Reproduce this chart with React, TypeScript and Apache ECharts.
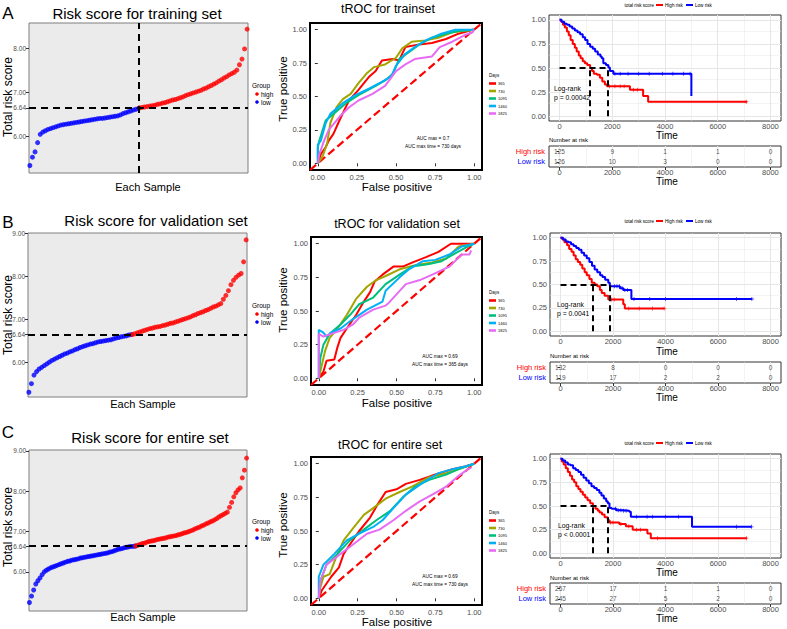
import React, { useEffect, useRef } from "react";
import * as echarts from "echarts";

const FONT = "'Liberation Sans', Arial, Helvetica, sans-serif";
const RED = "#FF0000";
const BLUE = "#0000FF";
const GREY = "#4D4D4D";

// ---------------- Risk score (sorted) ----------------
const cutoff = 6.64;
const nLowA = 126;
const nHighA = 125;
const riskLowA = [5.33, 5.52, 5.64, 5.85, 6.04, 6.09, 6.12, 6.15, 6.17, 6.19, 6.21, 6.23, 6.25, 6.26, 6.27, 6.28, 6.29, 6.3, 6.31, 6.32, 6.33, 6.34, 6.35, 6.36, 6.37, 6.38, 6.39, 6.4, 6.4, 6.41, 6.42, 6.43, 6.44, 6.45, 6.46, 6.48, 6.51, 6.53, 6.55, 6.57, 6.59, 6.61, 6.63];
const riskHighA = [6.64, 6.65, 6.66, 6.67, 6.68, 6.69, 6.7, 6.72, 6.73, 6.75, 6.76, 6.78, 6.8, 6.82, 6.83, 6.85, 6.87, 6.89, 6.92, 6.94, 6.96, 6.98, 7.0, 7.02, 7.04, 7.07, 7.09, 7.12, 7.15, 7.18, 7.21, 7.25, 7.28, 7.32, 7.35, 7.39, 7.42, 7.45, 7.5, 7.62, 7.75, 7.98, 8.43];
const nLowB = 119;
const nHighB = 132;
const riskLowB = [5.3, 5.5, 5.7, 5.78, 5.84, 5.88, 5.92, 5.96, 6.0, 6.04, 6.07, 6.1, 6.13, 6.16, 6.19, 6.21, 6.24, 6.26, 6.29, 6.31, 6.34, 6.36, 6.38, 6.4, 6.42, 6.43, 6.45, 6.47, 6.48, 6.49, 6.5, 6.51, 6.52, 6.54, 6.56, 6.57, 6.59, 6.6, 6.61, 6.63, 6.64];
const riskHighB = [6.64, 6.66, 6.68, 6.7, 6.72, 6.74, 6.76, 6.78, 6.79, 6.81, 6.82, 6.83, 6.85, 6.86, 6.88, 6.9, 6.91, 6.93, 6.95, 6.97, 6.99, 7.01, 7.03, 7.05, 7.08, 7.1, 7.13, 7.15, 7.17, 7.2, 7.22, 7.25, 7.28, 7.3, 7.33, 7.36, 7.46, 7.55, 7.66, 7.8, 7.9, 7.97, 8.02, 8.06, 8.33, 8.84];
const nLowC = 245;
const nHighC = 257;
const riskLowC = [5.24, 5.4, 5.55, 5.7, 5.78, 5.85, 5.93, 6.0, 6.04, 6.07, 6.1, 6.12, 6.14, 6.16, 6.18, 6.2, 6.22, 6.24, 6.26, 6.27, 6.29, 6.3, 6.31, 6.32, 6.34, 6.35, 6.36, 6.37, 6.38, 6.39, 6.4, 6.41, 6.42, 6.43, 6.44, 6.45, 6.46, 6.47, 6.49, 6.5, 6.52, 6.54, 6.56, 6.57, 6.58, 6.6, 6.61, 6.62, 6.63, 6.63, 6.64];
const riskHighC = [6.64, 6.66, 6.68, 6.7, 6.71, 6.73, 6.75, 6.76, 6.77, 6.78, 6.8, 6.81, 6.82, 6.83, 6.84, 6.86, 6.87, 6.88, 6.89, 6.9, 6.92, 6.93, 6.95, 6.97, 6.98, 7.0, 7.02, 7.04, 7.07, 7.09, 7.11, 7.14, 7.16, 7.19, 7.21, 7.24, 7.26, 7.29, 7.32, 7.36, 7.39, 7.42, 7.45, 7.48, 7.6, 7.72, 7.86, 7.96, 8.03, 8.08, 8.33, 8.52, 8.82];
const riskTicksA = [6, 6.64, 7, 8];
const riskTicksBC = [6, 6.64, 7, 8, 9];

// ---------------- time-dependent ROC ----------------
const rocDays = ["365", "730", "1095", "1460", "1825"];
const rocColors = [RED, "#A3A500", "#00BF7D", "#00B0F6", "#E76BF3"];
const rocTicks = [0, 0.25, 0.5, 0.75, 1];

const roc365A = [[0, 0], [0.02, 0.07], [0.05, 0.12], [0.07, 0.17], [0.1, 0.22], [0.13, 0.3], [0.17, 0.4], [0.2, 0.47], [0.26, 0.55], [0.33, 0.65], [0.37, 0.69], [0.41, 0.77], [0.48, 0.78], [0.52, 0.77], [0.56, 0.87], [0.65, 0.89], [0.73, 0.9], [0.82, 0.93], [0.9, 0.97], [0.99, 1], [1, 1]];
const roc730A = [[0, 0], [0.03, 0.05], [0.06, 0.15], [0.08, 0.3], [0.12, 0.42], [0.16, 0.48], [0.21, 0.52], [0.26, 0.6], [0.31, 0.67], [0.36, 0.72], [0.43, 0.74], [0.5, 0.79], [0.54, 0.86], [0.6, 0.91], [0.69, 0.92], [0.77, 0.94], [0.86, 0.98], [1, 1]];
const roc1095A = [[0, 0], [0, 0.12], [0.01, 0.17], [0.05, 0.32], [0.1, 0.37], [0.18, 0.45], [0.26, 0.51], [0.37, 0.58], [0.43, 0.62], [0.48, 0.67], [0.52, 0.78], [0.58, 0.83], [0.65, 0.89], [0.73, 0.94], [0.82, 0.97], [0.9, 0.99], [1, 1]];
const roc1460A = [[0, 0], [0, 0.14], [0.02, 0.17], [0.05, 0.3], [0.08, 0.37], [0.16, 0.45], [0.24, 0.51], [0.33, 0.56], [0.41, 0.61], [0.47, 0.65], [0.5, 0.73], [0.56, 0.82], [0.62, 0.87], [0.69, 0.92], [0.79, 0.97], [0.88, 1], [1, 1]];
const roc1825A = [[0, 0], [0.01, 0.07], [0.04, 0.17], [0.07, 0.25], [0.14, 0.35], [0.2, 0.42], [0.26, 0.47], [0.35, 0.52], [0.43, 0.58], [0.5, 0.69], [0.56, 0.74], [0.62, 0.78], [0.73, 0.8], [0.78, 0.87], [0.86, 0.91], [0.94, 0.96], [0.99, 0.98], [1, 1]];

const roc365B = [[0, 0], [0.03, 0.05], [0.05, 0.13], [0.1, 0.14], [0.12, 0.23], [0.14, 0.3], [0.18, 0.37], [0.24, 0.47], [0.29, 0.57], [0.33, 0.64], [0.36, 0.72], [0.41, 0.77], [0.48, 0.83], [0.54, 0.83], [0.6, 0.86], [0.69, 0.9], [0.77, 0.94], [0.85, 1], [1, 1]];
const roc730B = [[0, 0], [0.02, 0.1], [0.04, 0.2], [0.07, 0.3], [0.12, 0.37], [0.18, 0.47], [0.24, 0.59], [0.31, 0.68], [0.37, 0.73], [0.43, 0.76], [0.52, 0.81], [0.62, 0.84], [0.73, 0.86], [0.82, 0.89], [0.9, 0.98], [1, 1]];
const roc1095B = [[0, 0], [0.01, 0.15], [0.03, 0.25], [0.07, 0.33], [0.14, 0.4], [0.2, 0.47], [0.26, 0.55], [0.35, 0.6], [0.43, 0.7], [0.52, 0.77], [0.6, 0.83], [0.71, 0.85], [0.79, 0.87], [0.88, 0.93], [0.96, 0.98], [1, 1]];
const roc1460B = [[0, 0], [0, 0.36], [0.03, 0.34], [0.05, 0.31], [0.08, 0.34], [0.14, 0.37], [0.22, 0.44], [0.31, 0.51], [0.41, 0.57], [0.43, 0.65], [0.52, 0.75], [0.58, 0.81], [0.67, 0.87], [0.75, 0.88], [0.84, 0.92], [0.92, 0.98], [1, 1]];
const roc1825B = [[0, 0], [0, 0.33], [0.03, 0.31], [0.08, 0.33], [0.16, 0.36], [0.22, 0.4], [0.26, 0.45], [0.35, 0.51], [0.43, 0.54], [0.45, 0.56], [0.56, 0.7], [0.65, 0.73], [0.73, 0.77], [0.84, 0.83], [0.92, 0.92], [0.97, 0.92], [0.98, 0.95]];

const roc365C = [[0, 0], [0.02, 0.06], [0.05, 0.11], [0.08, 0.16], [0.13, 0.23], [0.16, 0.33], [0.2, 0.4], [0.26, 0.5], [0.33, 0.6], [0.38, 0.7], [0.43, 0.79], [0.5, 0.81], [0.56, 0.85], [0.65, 0.88], [0.75, 0.92], [0.86, 0.96], [0.94, 0.98], [1, 1]];
const roc730C = [[0, 0], [0.01, 0.08], [0.03, 0.16], [0.07, 0.18], [0.11, 0.3], [0.16, 0.43], [0.22, 0.52], [0.29, 0.62], [0.35, 0.67], [0.43, 0.74], [0.52, 0.79], [0.6, 0.83], [0.71, 0.9], [0.82, 0.93], [0.9, 0.96], [1, 1]];
const roc1095C = [[0, 0], [0.01, 0.13], [0.05, 0.25], [0.12, 0.33], [0.2, 0.43], [0.29, 0.51], [0.37, 0.58], [0.46, 0.65], [0.54, 0.75], [0.62, 0.83], [0.71, 0.88], [0.82, 0.92], [0.9, 0.96], [1, 1]];
const roc1460C = [[0, 0], [0, 0.16], [0.03, 0.25], [0.1, 0.33], [0.18, 0.43], [0.26, 0.48], [0.35, 0.53], [0.41, 0.58], [0.48, 0.67], [0.56, 0.77], [0.67, 0.86], [0.77, 0.93], [0.86, 0.96], [0.94, 0.98], [1, 1]];
const roc1825C = [[0, 0], [0.01, 0.13], [0.05, 0.25], [0.14, 0.33], [0.22, 0.4], [0.31, 0.48], [0.39, 0.51], [0.48, 0.58], [0.56, 0.65], [0.65, 0.72], [0.73, 0.77], [0.82, 0.83], [0.9, 0.91], [0.96, 0.96], [0.98, 0.97]];

// ---------------- Kaplan-Meier ----------------
const kmTicksX = [0, 2000, 4000, 6000, 8000];
const kmMinorX = [1000, 3000, 5000, 7000];
const kmTicksY = [0, 0.25, 0.5, 0.75, 1];
const kmMinorY = [0.125, 0.375, 0.625, 0.875];

const kmHighA = [[0, 1], [60, 0.98], [130, 0.95], [200, 0.92], [280, 0.88], [350, 0.84], [420, 0.79], [500, 0.75], [580, 0.71], [650, 0.67], [730, 0.63], [800, 0.6], [880, 0.57], [960, 0.55], [1050, 0.53], [1160, 0.5], [1230, 0.47], [1300, 0.44], [1420, 0.43], [1530, 0.4], [1620, 0.36], [1720, 0.33], [1800, 0.31], [2670, 0.275], [3170, 0.21], [3360, 0.15], [7100, 0.15]];
const kmLowA = [[0, 1], [80, 0.98], [180, 0.96], [280, 0.95], [380, 0.93], [480, 0.91], [580, 0.89], [680, 0.87], [780, 0.85], [880, 0.82], [970, 0.79], [1060, 0.75], [1160, 0.72], [1260, 0.7], [1350, 0.67], [1450, 0.64], [1550, 0.62], [1600, 0.6], [1660, 0.55], [1760, 0.53], [1850, 0.505], [1910, 0.47], [2040, 0.44], [5000, 0.21]];
const censorHighA = [1900, 2100, 2300, 2450, 2800, 2950, 7080];
const censorLowA = [2100, 2300, 2600, 3000, 3400, 3900, 4300, 4700, 4950];
const medianA = [1160, 1810];

const kmHighB = [[0, 1], [70, 0.98], [150, 0.95], [250, 0.92], [330, 0.88], [420, 0.85], [500, 0.81], [580, 0.77], [660, 0.74], [750, 0.71], [830, 0.67], [920, 0.63], [1000, 0.6], [1100, 0.56], [1190, 0.52], [1300, 0.5], [1400, 0.48], [1500, 0.44], [1570, 0.41], [1680, 0.38], [1820, 0.34], [2390, 0.29], [2450, 0.245], [3960, 0.245]];
const kmLowB = [[0, 1], [100, 0.98], [200, 0.96], [300, 0.95], [400, 0.93], [500, 0.91], [600, 0.89], [700, 0.87], [800, 0.84], [900, 0.81], [1000, 0.78], [1100, 0.74], [1200, 0.7], [1300, 0.66], [1400, 0.63], [1510, 0.6], [1600, 0.58], [1700, 0.55], [1820, 0.52], [1880, 0.48], [2260, 0.46], [2390, 0.44], [2700, 0.345], [7290, 0.345]];
const censorHighB = [1950, 2050, 2600, 3000, 3500, 3950];
const censorLowB = [2050, 2150, 2250, 2350, 2450, 2550, 2800, 3400, 4000, 6700, 7290];
const medianB = [1230, 1860];

const kmHighC = [[0, 1], [50, 0.97], [120, 0.94], [200, 0.9], [280, 0.86], [360, 0.82], [440, 0.78], [520, 0.75], [600, 0.71], [680, 0.68], [760, 0.65], [850, 0.62], [940, 0.59], [1030, 0.56], [1130, 0.53], [1235, 0.5], [1330, 0.47], [1420, 0.45], [1490, 0.43], [1580, 0.41], [1680, 0.38], [1800, 0.35], [1865, 0.325], [2240, 0.31], [2490, 0.285], [2750, 0.25], [3310, 0.21], [3440, 0.16], [7090, 0.16]];
const kmLowC = [[0, 1], [80, 0.98], [180, 0.96], [280, 0.94], [380, 0.93], [480, 0.9], [580, 0.88], [680, 0.86], [780, 0.83], [880, 0.8], [980, 0.77], [1080, 0.74], [1180, 0.71], [1280, 0.69], [1380, 0.67], [1480, 0.64], [1560, 0.61], [1650, 0.58], [1740, 0.55], [1800, 0.53], [1865, 0.48], [1950, 0.47], [2120, 0.455], [2400, 0.45], [2620, 0.44], [2680, 0.385], [5010, 0.28], [7280, 0.28]];
const censorHighC = [1900, 2000, 2300, 2600, 2900, 3050, 3700, 7080];
const censorLowC = [2100, 2200, 2300, 2400, 2500, 2900, 3300, 3500, 4000, 4500, 6700, 7280];
const medianC = [1210, 1815];

// Number at risk
const atRiskTimes = [0, 2000, 4000, 6000, 8000];
const atRiskHighA = [125, 9, 1, 1, 0];
const atRiskLowA = [126, 10, 3, 0, 0];
const atRiskHighB = [132, 8, 0, 0, 0];
const atRiskLowB = [119, 17, 2, 2, 0];
const atRiskHighC = [257, 17, 1, 1, 0];
const atRiskLowC = [245, 27, 5, 2, 0];

// ---------------- helpers ----------------
function spread(vals: number[], start: number, count: number) {
  const m = vals.length;
  return vals.map((v, k) => [start + (k * (count - 1)) / (m - 1), v]);
}
function survAt(curve: number[][], t: number) {
  let s = 1;
  for (const p of curve) {
    if (p[0] <= t) s = p[1];
    else break;
  }
  return s;
}
function txt(text: string, x: number, y: number, size: number, o: any = {}) {
  return {
    type: "text",
    x,
    y,
    rotation: o.rot || 0,
    silent: true,
    z: 100,
    style: {
      text,
      fontSize: size,
      fontFamily: FONT,
      fill: o.color || "#000",
      align: o.align || "center",
      verticalAlign: "middle",
    },
  };
}
const PLUS = "path://M2,0H3V2H5V3H3V5H2V3H0V2H2Z";

const panels = [
  {
    letter: "A", letterY: 13,
    risk: { title: "Risk score for training set", tx: 137, ty: 13, box: { left: 29, top: 23, width: 219, height: 150 }, min: 5.16, max: 8.57, ticks: riskTicksA, low: riskLowA, high: riskHighA, nLow: nLowA, nHigh: nHighA, vline: true, labelY: 97, sx: 148, sy: 187, gy: 85 },
    roc: { title: "tROC for trainset", tx: 388, ty: 9, box: { left: 310, top: 23, width: 172, height: 147 }, curves: [roc365A, roc730A, roc1095A, roc1460A, roc1825A], labelY: 89, fy: 187, dy: 75, auc: ["AUC max = 0.7", "AUC max time = 730 days"], ax: 433, ay: 138 },
    km: { box: { left: 549, top: 15, width: 232, height: 106 }, ly: 5, high: kmHighA, low: kmLowA, ch: censorHighA, cl: censorLowA, med: medianA, timeY: 135, p: "p = 0.00042", lx: 554, lry: 88 },
    tab: { box: { left: 549, top: 146, width: 232, height: 21 }, ty: 140, high: atRiskHighA, low: atRiskLowA, timeY: 181 },
  },
  {
    letter: "B", letterY: 222,
    risk: { title: "Risk score for validation set", tx: 156, ty: 220, box: { left: 28, top: 233, width: 219, height: 164 }, min: 5.19, max: 9.0, ticks: riskTicksBC, low: riskLowB, high: riskHighB, nLow: nLowB, nHigh: nHighB, vline: false, labelY: 315, sx: 143, sy: 404, gy: 305 },
    roc: { title: "tROC for validation set", tx: 397, ty: 224, box: { left: 311, top: 237, width: 171, height: 148 }, curves: [roc365B, roc730B, roc1095B, roc1460B, roc1825B], labelY: 300, fy: 403, dy: 292, auc: ["AUC max = 0.69", "AUC max time = 365 days"], ax: 440, ay: 356 },
    km: { box: { left: 550, top: 233, width: 231, height: 103 }, ly: 221, high: kmHighB, low: kmLowB, ch: censorHighB, cl: censorLowB, med: medianB, timeY: 351, p: "p = 0.0041", lx: 557, lry: 304 },
    tab: { box: { left: 550, top: 362, width: 231, height: 21 }, ty: 356, high: atRiskHighB, low: atRiskLowB, timeY: 397 },
  },
  {
    letter: "C", letterY: 432,
    risk: { title: "Risk score for entire set", tx: 150, ty: 437, box: { left: 29, top: 450, width: 218, height: 161 }, min: 5.03, max: 9.02, ticks: riskTicksBC, low: riskLowC, high: riskHighC, nLow: nLowC, nHigh: nHighC, vline: false, labelY: 527, sx: 143, sy: 617, gy: 521 },
    roc: { title: "tROC for entire set", tx: 390, ty: 445, box: { left: 311, top: 457, width: 171, height: 148 }, curves: [roc365C, roc730C, roc1095C, roc1460C, roc1825C], labelY: 525, fy: 622, dy: 512, auc: ["AUC max = 0.69", "AUC max time = 730 days"], ax: 440, ay: 576 },
    km: { box: { left: 550, top: 454, width: 231, height: 104 }, ly: 443, high: kmHighC, low: kmLowC, ch: censorHighC, cl: censorLowC, med: medianC, timeY: 572, p: "p < 0.0001", lx: 558, lry: 525 },
    tab: { box: { left: 550, top: 583, width: 231, height: 21 }, ty: 578, high: atRiskHighC, low: atRiskLowC, timeY: 618 },
  },
];

function valueAxisLabels(ticks: number[], fmt: (v: number) => string, size: number, margin = 3) {
  return {
    axisLine: { show: false },
    splitLine: { show: false },
    axisTick: { show: true, customValues: ticks, length: 3, lineStyle: { color: "#333", width: 1 } },
    axisLabel: { customValues: ticks, formatter: fmt, fontSize: size, color: GREY, margin, fontFamily: FONT },
  };
}

function gridLineSeries(g: number, vert: number[], vertMinor: number[], hor: number[], horMinor: number[]) {
  const data: any[] = [];
  vert.forEach((v) => data.push({ xAxis: v, lineStyle: { width: 1 } }));
  vertMinor.forEach((v) => data.push({ xAxis: v, lineStyle: { width: 0.5 } }));
  hor.forEach((v) => data.push({ yAxis: v, lineStyle: { width: 1 } }));
  horMinor.forEach((v) => data.push({ yAxis: v, lineStyle: { width: 0.5 } }));
  return {
    type: "line",
    xAxisIndex: g,
    yAxisIndex: g,
    data: [[vert[0], hor.length ? hor[0] : 0]],
    showSymbol: false,
    silent: true,
    lineStyle: { opacity: 0 },
    z: 1,
    markLine: {
      z: 1,
      silent: true,
      symbol: ["none", "none"],
      label: { show: false },
      lineStyle: { color: "#E6E6E6", type: "solid" },
      data,
    },
  };
}

function buildOption() {
  const grid: any[] = [];
  const xAxis: any[] = [];
  const yAxis: any[] = [];
  const series: any[] = [];
  const graphic: any[] = [];
  let gi = 0;

  panels.forEach((p) => {
    graphic.push(txt(p.letter, 8, p.letterY, 17));

    // ---- risk score plot ----
    const r = p.risk;
    let g = gi++;
    grid.push({ ...r.box, show: true, backgroundColor: "#EBEBEB", borderColor: "#7F7F7F", borderWidth: 1 });
    xAxis.push({ gridIndex: g, type: "value", min: 0, max: r.nLow + r.nHigh + 1, show: false, splitLine: { show: false } });
    yAxis.push({ gridIndex: g, type: "value", min: r.min, max: r.max, ...valueAxisLabels(r.ticks, (v: number) => v.toFixed(2), 6.5) });
    const mlData: any[] = [{ yAxis: cutoff }];
    if (r.vline) mlData.push({ xAxis: r.nLow + 0.5 });
    series.push({ type: "scatter", xAxisIndex: g, yAxisIndex: g, data: spread(r.low, 1, r.nLow), symbolSize: 5, itemStyle: { color: BLUE }, silent: true });
    series.push({
      type: "scatter", xAxisIndex: g, yAxisIndex: g, data: spread(r.high, r.nLow + 1, r.nHigh), symbolSize: 5, itemStyle: { color: RED }, silent: true,
      markLine: { silent: true, symbol: ["none", "none"], label: { show: false }, lineStyle: { color: "#000", type: [7, 5], width: 2 }, data: mlData },
    });
    graphic.push(txt(r.title, r.tx, r.ty, 15));
    graphic.push(txt("Total risk score", 8, r.labelY, 12, { rot: Math.PI / 2 }));
    graphic.push(txt("Each Sample", r.sx, r.sy, 11));
    graphic.push(txt("Group", 252, r.gy, 6.5, { align: "left" }));
    graphic.push({ type: "circle", shape: { cx: 257, cy: r.gy + 9, r: 1.8 }, style: { fill: RED }, silent: true });
    graphic.push({ type: "circle", shape: { cx: 257, cy: r.gy + 17, r: 1.8 }, style: { fill: BLUE }, silent: true });
    graphic.push(txt("high", 261, r.gy + 9, 6.5, { align: "left" }));
    graphic.push(txt("low", 261, r.gy + 17, 6.5, { align: "left" }));

    // ---- ROC ----
    const o = p.roc;
    g = gi++;
    grid.push({ ...o.box, show: true, backgroundColor: "#fff", borderColor: "#000", borderWidth: 2 });
    xAxis.push({ gridIndex: g, type: "value", min: -0.05, max: 1.05, ...valueAxisLabels(rocTicks, (v: number) => v.toFixed(2), 7.5) });
    yAxis.push({ gridIndex: g, type: "value", min: -0.05, max: 1.05, ...valueAxisLabels(rocTicks, (v: number) => v.toFixed(2), 7.5) });
    series.push({
      type: "line", xAxisIndex: g, yAxisIndex: g, data: [[-0.05, -0.05], [1.05, 1.05]], showSymbol: false, silent: true,
      lineStyle: { color: RED, width: 2.2, type: [8, 4] },
    });
    o.curves.forEach((c, i) => {
      series.push({
        type: "line", xAxisIndex: g, yAxisIndex: g, data: c, showSymbol: false, silent: true,
        lineStyle: { color: rocColors[i], width: 2 },
      });
    });
    graphic.push(txt(o.title, o.tx, o.ty, 12.5));
    graphic.push(txt("True positive", 283, o.labelY, 11.5, { rot: Math.PI / 2 }));
    graphic.push(txt("False positive", 397, o.fy, 11.5));
    graphic.push(txt("Days", 489, o.dy, 4.5, { align: "left" }));
    rocDays.forEach((d, i) => {
      const yy = o.dy + 8.5 + i * 7.5;
      graphic.push({ type: "rect", shape: { x: 489, y: yy - 1.3, width: 7, height: 2.6 }, style: { fill: rocColors[i] }, silent: true });
      graphic.push(txt(d, 498, yy, 4, { align: "left" }));
    });
    graphic.push(txt(o.auc[0], o.ax, o.ay, 4.8));
    graphic.push(txt(o.auc[1], o.ax, o.ay + 8, 4.8));

    // ---- KM ----
    const k = p.km;
    g = gi++;
    grid.push({ ...k.box, show: true, backgroundColor: "#fff", borderColor: "#333", borderWidth: 1 });
    xAxis.push({ gridIndex: g, type: "value", min: -400, max: 8400, ...valueAxisLabels(kmTicksX, (v: number) => String(v), 7.5, 1) });
    yAxis.push({ gridIndex: g, type: "value", min: -0.05, max: 1.05, ...valueAxisLabels(kmTicksY, (v: number) => v.toFixed(2), 7.5) });
    series.push(gridLineSeries(g, kmTicksX, kmMinorX, kmTicksY, kmMinorY));
    series.push({ type: "line", step: "end", xAxisIndex: g, yAxisIndex: g, data: k.high, showSymbol: false, silent: true, lineStyle: { color: RED, width: 2 }, z: 3 });
    series.push({ type: "line", step: "end", xAxisIndex: g, yAxisIndex: g, data: k.low, showSymbol: false, silent: true, lineStyle: { color: BLUE, width: 2 }, z: 3 });
    series.push({ type: "scatter", xAxisIndex: g, yAxisIndex: g, data: k.ch.map((t) => [t, survAt(k.high, t)]), symbol: PLUS, symbolSize: 4, itemStyle: { color: RED }, silent: true, z: 3 });
    series.push({ type: "scatter", xAxisIndex: g, yAxisIndex: g, data: k.cl.map((t) => [t, survAt(k.low, t)]), symbol: PLUS, symbolSize: 4, itemStyle: { color: BLUE }, silent: true, z: 3 });
    series.push({
      type: "line", xAxisIndex: g, yAxisIndex: g, data: [[0, 1]], showSymbol: false, silent: true, lineStyle: { opacity: 0 }, z: 4,
      markLine: {
        z: 6,
        silent: true, symbol: ["none", "none"], label: { show: false },
        lineStyle: { color: "#000", type: [6, 4], width: 2 },
        data: [
          [{ coord: [0, 0.5] }, { coord: [Math.max(k.med[0], k.med[1]), 0.5] }],
          [{ coord: [k.med[0], 0] }, { coord: [k.med[0], 0.5] }],
          [{ coord: [k.med[1], 0] }, { coord: [k.med[1], 0.5] }],
        ],
      },
    });
    graphic.push(txt("total risk score", 654, k.ly, 4.6, { align: "right" }));
    graphic.push({ type: "rect", shape: { x: 656, y: k.ly - 1, width: 7, height: 2 }, style: { fill: RED }, silent: true });
    graphic.push(txt("High risk", 665, k.ly, 4.6, { align: "left" }));
    graphic.push({ type: "rect", shape: { x: 686, y: k.ly - 1, width: 7, height: 2 }, style: { fill: BLUE }, silent: true });
    graphic.push(txt("Low risk", 695, k.ly, 4.6, { align: "left" }));
    graphic.push(txt("Time", 667, k.timeY, 10));
    graphic.push(txt("Log-rank", k.lx, k.lry, 6.8, { align: "left" }));
    graphic.push(txt(k.p, k.lx, k.lry + 9, 6.8, { align: "left" }));

    // ---- Number at risk table ----
    const t = p.tab;
    g = gi++;
    grid.push({ ...t.box, show: true, backgroundColor: "#fff", borderColor: "#333", borderWidth: 1 });
    xAxis.push({ gridIndex: g, type: "value", min: -400, max: 8400, ...valueAxisLabels(kmTicksX, (v: number) => String(v), 7.5, 1) });
    yAxis.push({
      gridIndex: g, type: "category", data: ["Low risk", "High risk"],
      axisLine: { show: false }, splitLine: { show: false },
      axisTick: { show: true, alignWithLabel: true, length: 3, lineStyle: { color: "#333" } },
      axisLabel: { fontSize: 7.5, margin: 4, fontFamily: FONT, color: (v: string) => (v === "High risk" ? RED : BLUE) },
    });
    series.push(gridLineSeries(g, kmTicksX, kmMinorX, [], []));
    const cells: any[] = [];
    atRiskTimes.forEach((tm, i) => {
      cells.push([tm, 1, t.high[i]]);
      cells.push([tm, 0, t.low[i]]);
    });
    series.push({
      type: "scatter", xAxisIndex: g, yAxisIndex: g, data: cells, symbolSize: 1, silent: true, z: 8,
      itemStyle: { color: "rgba(0,0,0,0)" },
      label: { show: true, position: "inside", formatter: (q: any) => String(q.value[2]), fontSize: 6.5, color: "#222", fontFamily: FONT },
    });
    graphic.push(txt("Number at risk", t.box.left, t.ty, 6, { align: "left" }));
    graphic.push(txt("Time", 667, t.timeY, 10));
  });

  return {
    animation: false,
    backgroundColor: "#fff",
    textStyle: { fontFamily: FONT },
    grid,
    xAxis,
    yAxis,
    series,
    graphic,
  };
}

export default function App() {
  const ref = useRef<HTMLDivElement>(null);
  useEffect(() => {
    if (!ref.current) return;
    const chart = echarts.init(ref.current, undefined, { renderer: "svg" });
    chart.setOption(buildOption() as any);
    return () => chart.dispose();
  }, []);
  return <div ref={ref} style={{ position: "absolute", left: 0, top: 0, width: 787, height: 629 }} />;
}
